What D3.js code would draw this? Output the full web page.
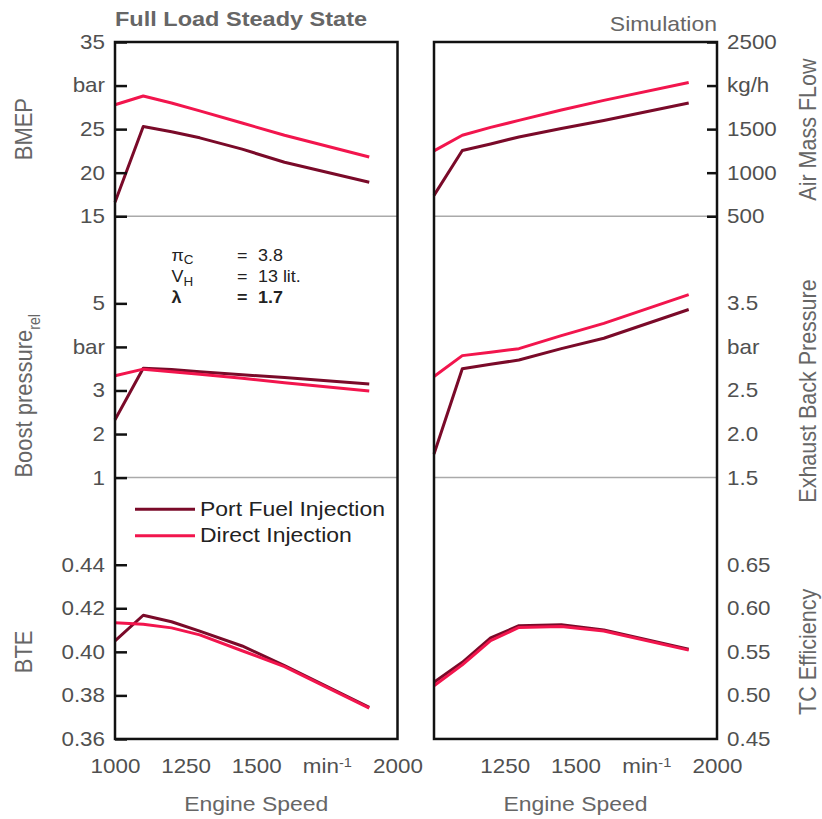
<!DOCTYPE html>
<html>
<head>
<meta charset="utf-8">
<script src="https://cdn.jsdelivr.net/npm/d3@7"></script>
<style>
  body { margin: 0; background: #fff; }
  svg { display: block; font-family: "Liberation Sans", Arial, sans-serif; }
</style>
</head>
<body>
<div id="chart"></div>
<script>
// engine speed points (min-1)
const speed = [1000, 1100, 1200, 1300, 1450, 1600, 1900];

// left column
const bmepPFI = [16.6, 25.3, 24.7, 24.0, 22.7, 21.2, 18.9];
const bmepDI = [27.8, 28.8, 28.0, 27.1, 25.7, 24.3, 21.8];
const boostPFI = [2.33, 3.51, 3.48, 3.43, 3.36, 3.30, 3.15];
const boostDI = [3.34, 3.49, 3.43, 3.37, 3.28, 3.18, 2.99];
const btePFI = [0.405, 0.4168, 0.4138, 0.4095, 0.4027, 0.3937, 0.3745];
const bteDI = [0.4133, 0.4127, 0.4110, 0.4078, 0.4005, 0.3932, 0.3742];

// right column
const airPFI = [740, 1255, 1330, 1410, 1507, 1600, 1800];
const airDI = [1250, 1430, 1520, 1600, 1720, 1830, 2035];
const exhPFI = [1.77, 2.75, 2.80, 2.85, 2.98, 3.10, 3.43];
const exhDI = [2.66, 2.90, 2.94, 2.98, 3.13, 3.27, 3.60];
const tcPFI = [0.515, 0.538, 0.566, 0.580, 0.581, 0.575, 0.553];
const tcDI = [0.511, 0.535, 0.563, 0.578, 0.579, 0.574, 0.552];

// tick labels
const xTicksLeft = [1000, 1250, 1500, 1750, 2000];
const xTicksRight = [1250, 1500, 1750, 2000];
const bmepTicks = [15, 20, 25, 30, 35];
const boostTicks = [1, 2, 3, 4, 5];
const bteTicks = [0.36, 0.38, 0.40, 0.42, 0.44];
const airTicks = [500, 1000, 1500, 2000, 2500];
const exhTicks = [1.5, 2.0, 2.5, 3.0, 3.5];
const tcTicks = [0.45, 0.50, 0.55, 0.60, 0.65];

const seriesNames = ['Port Fuel Injection', 'Direct Injection'];
const notes = [
    { sym: 'π', sub: 'C', val: '3.8', bold: false },
    { sym: 'V', sub: 'H', val: '13 lit.', bold: false },
    { sym: 'λ', sub: '', val: '1.7', bold: true }
];

const width = 822, height = 819;
const SX = 1.12;            // glyphs in the source are a bit wide
const pfiColor = '#7a0a29';
const diColor = '#f2154d';
const tickColor = '#505050';
const titleColor = '#666';

const unit = 43.56;
const yTop = 42;
const ySep1 = yTop + 4 * unit;
const ySep2 = ySep1 + 6 * unit;
const yBot = ySep2 + 6 * unit;

const xL = d3.scaleLinear().domain([1000, 2000]).range([115, 397.5]);
const xR = d3.scaleLinear().domain([1000, 2000]).range([434, 717]);

const yBmep = d3.scaleLinear().domain([15, 35]).range([ySep1, yTop]);
const yBoost = d3.scaleLinear().domain([1, 7]).range([ySep2, ySep1]);
const yBte = d3.scaleLinear().domain([0.36, 0.48]).range([yBot, ySep2]);
const yAir = d3.scaleLinear().domain([500, 2500]).range([ySep1, yTop]);
const yExh = d3.scaleLinear().domain([1.5, 4.5]).range([ySep2, ySep1]);
const yTc = d3.scaleLinear().domain([0.45, 0.75]).range([yBot, ySep2]);

const svg = d3.select('#chart').append('svg')
    .attr('width', width)
    .attr('height', height);

// stretch text horizontally, keeping its anchor point
function stretch(sel) {
    sel.each(function() {
        const t = d3.select(this);
        const x = +(t.attr('x') || 0);
        t.attr('x', x / SX).attr('transform', `scale(${SX},1)`);
    });
}

function label(x, y, str, size, opts = {}) {
    const g = svg.append('g').attr('transform', `translate(${x},${y})` + (opts.rotate ? ' rotate(-90)' : ''));
    return g.append('text')
        .attr('transform', opts.rotate ? `scale(1,${SX})` : `scale(${SX},1)`)
        .attr('text-anchor', opts.anchor || 'start')
        .attr('font-size', size)
        .attr('font-weight', opts.bold ? 'bold' : null)
        .attr('fill', opts.color || titleColor)
        .text(str);
}

const sections = [
    { x: xL, y: yBmep, pfi: bmepPFI, di: bmepDI, ticks: bmepTicks, fmt: d => d === 30 ? 'bar' : d, side: 'left', tick: 12 },
    { x: xL, y: yBoost, pfi: boostPFI, di: boostDI, ticks: boostTicks, fmt: d => d === 4 ? 'bar' : d, side: 'left', tick: 12 },
    { x: xL, y: yBte, pfi: btePFI, di: bteDI, ticks: bteTicks, fmt: d3.format('.2f'), side: 'left', tick: 12 },
    { x: xR, y: yAir, pfi: airPFI, di: airDI, ticks: airTicks, fmt: d => d === 2000 ? 'kg/h' : d, side: 'right', tick: 10 },
    { x: xR, y: yExh, pfi: exhPFI, di: exhDI, ticks: exhTicks, fmt: d => d === 3 ? 'bar' : d3.format('.1f')(d), side: 'right', tick: 0 },
    { x: xR, y: yTc, pfi: tcPFI, di: tcDI, ticks: tcTicks, fmt: d3.format('.2f'), side: 'right', tick: 0 }
];

// section separators
[xL, xR].forEach(x => {
    [ySep1, ySep2].forEach(y => {
        svg.append('line')
            .attr('x1', x.range()[0]).attr('x2', x.range()[1])
            .attr('y1', y).attr('y2', y)
            .attr('stroke', '#aaa')
            .attr('stroke-width', 1.5);
    });
});

// curves
sections.forEach(s => {
    const line = d3.line().x((d, i) => s.x(speed[i])).y(d => s.y(d));
    [[s.pfi, pfiColor], [s.di, diColor]].forEach(([vals, color]) => {
        svg.append('path')
            .datum(vals)
            .attr('d', line)
            .attr('fill', 'none')
            .attr('stroke', color)
            .attr('stroke-width', 3)
            .attr('stroke-linejoin', 'round');
    });
});

// frames
[xL, xR].forEach(x => {
    const [x0, x1] = x.range();
    svg.append('rect')
        .attr('x', x0).attr('y', yTop)
        .attr('width', x1 - x0).attr('height', yBot - yTop)
        .attr('fill', 'none')
        .attr('stroke', '#111')
        .attr('stroke-width', 2.5);
});

// y axes
sections.forEach(s => {
    const isLeft = s.side === 'left';
    const axis = (isLeft ? d3.axisLeft(s.y) : d3.axisRight(s.y))
        .tickValues(s.ticks)
        .tickFormat(s.fmt)
        .tickSize(-s.tick)
        .tickPadding(10);
    const g = svg.append('g')
        .attr('transform', `translate(${isLeft ? s.x.range()[0] : s.x.range()[1]},0)`)
        .call(axis);
    g.select('.domain').remove();
    g.attr('font-family', null);
    g.selectAll('.tick line').attr('stroke', '#111').attr('stroke-width', 2.5);
    g.selectAll('.tick text')
        .attr('font-size', 20)
        .attr('fill', tickColor)
        .call(stretch);
});

// x axes
[[xL, xTicksLeft], [xR, xTicksRight]].forEach(([x, ticks]) => {
    const g = svg.append('g')
        .attr('transform', `translate(0,${yBot})`)
        .call(d3.axisBottom(x).tickValues(ticks).tickSize(0).tickPadding(20)
            .tickFormat(d => d === 1750 ? 'min' : d));
    g.select('.domain').remove();
    g.attr('font-family', null);
    g.selectAll('.tick text')
        .attr('font-size', 20)
        .attr('fill', tickColor)
        .call(stretch);
    g.selectAll('.tick text').filter(d => d === 1750)
        .append('tspan')
        .attr('baseline-shift', 'super')
        .attr('font-size', 13)
        .text('-1');
});

// titles
label(115, 26, 'Full Load Steady State', 21, { bold: true });
label(717, 31, 'Simulation', 20.5, { anchor: 'end' });
label(xL(1500), 811, 'Engine Speed', 20.5, { anchor: 'middle' });
label(xR(1500), 811, 'Engine Speed', 20.5, { anchor: 'middle' });

label(31.5, yBmep(25), 'BMEP', 22, { rotate: true, anchor: 'middle' });
const boost = label(31.5, ySep2, 'Boost pressure', 22, { rotate: true, anchor: 'start' });
boost.append('tspan').attr('baseline-shift', 'sub').attr('font-size', 14).text('rel');
label(31.5, yBte(0.40), 'BTE', 22, { rotate: true, anchor: 'middle' });

label(816, yAir(1500) + 0.5, 'Air Mass FLow', 21.5, { rotate: true, anchor: 'middle' });
label(816, 391, 'Exhaust Back Pressure', 21.5, { rotate: true, anchor: 'middle' });
label(816, yTc(0.55), 'TC Efficiency', 21.5, { rotate: true, anchor: 'middle' });

// parameters box
notes.forEach((n, i) => {
    const y = 260.5 + i * 21.3;
    const t = label(171.5, y, n.sym, 16, { bold: n.bold, color: '#222' });
    if (n.sub) {
        t.append('tspan').attr('baseline-shift', '-0.35em').attr('font-size', 12).text(n.sub);
    }
    label(237, y, '=', 16, { bold: n.bold, color: '#222' });
    label(258, y, n.val, 16, { bold: n.bold, color: '#222' });
});

// legend
seriesNames.forEach((name, i) => {
    const y = 509.3 + i * 26.4;
    svg.append('line')
        .attr('x1', 135).attr('x2', 195)
        .attr('y1', y).attr('y2', y)
        .attr('stroke', i === 0 ? pfiColor : diColor)
        .attr('stroke-width', 3);
    label(200, y + 6.5, name, 20.5, { color: '#222' });
});
</script>
</body>
</html>
